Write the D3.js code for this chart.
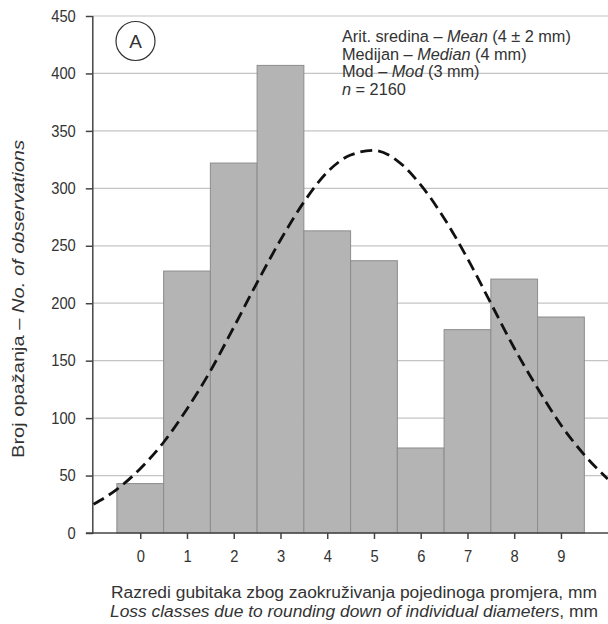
<!DOCTYPE html>
<html><head><meta charset="utf-8">
<script src="https://cdn.jsdelivr.net/npm/d3@7"></script>
<style>
html,body{margin:0;padding:0;background:#fff;}
svg{display:block;}
text{font-family:"Liberation Sans",Arial,sans-serif;fill:#333;}
</style></head>
<body>
<svg id="chart" width="608" height="624"></svg>
<script>
// Data
const classes = [0,1,2,3,4,5,6,7,8,9];
const counts  = [43,228,322,407,263,237,74,177,221,188];
const yTicks  = [0,50,100,150,200,250,300,350,400,450];
// Fitted curve (x position, value)
const curveX = [-1,-0.5,0,0.5,1,1.5,2,2.5,3,3.5,4,4.5,5,5.5,6,6.5,7,7.5,8,8.5,9,9.5,10];
const curveY = [25,38,56,79,108,141,179,218,255,288,314,329,333,324,303,274,239,200,161,126,94,68,47];
const statLines = [
  [["Arit. sredina – ",false],["Mean",true],[" (4 ± 2 mm)",false]],
  [["Medijan – ",false],["Median",true],[" (4 mm)",false]],
  [["Mod – ",false],["Mod",true],[" (3 mm)",false]],
  [["n",true],[" = 2160",false]]
];
const yTitle = [["Broj opažanja – ",false],["No. of observations",true]];
const xTitle1 = "Razredi gubitaka zbog zaokruživanja pojedinoga promjera, mm";
const xTitle2 = [["Loss classes due to rounding down of individual diameters",true],[", mm",false]];

const svg = d3.select("#chart");
const x = d3.scaleLinear().domain([-1,10]).range([93.5,607.7]);
const y = d3.scaleLinear().domain([0,450]).range([533,16]);

// gridlines
svg.append("g").selectAll("line").data(yTicks.filter(d=>d>0)).join("line")
  .attr("x1",93).attr("x2",608).attr("y1",d=>y(d)).attr("y2",d=>y(d))
  .attr("stroke","#c4c4c4").attr("stroke-width",1.2);

// bars
svg.append("g").selectAll("rect").data(classes).join("rect")
  .attr("x",d=>x(d-0.5)).attr("width",d=>x(d+0.5)-x(d-0.5))
  .attr("y",(d,i)=>y(counts[i])).attr("height",(d,i)=>y(0)-y(counts[i]))
  .attr("fill","#b4b4b4").attr("stroke","#8c8c8c").attr("stroke-width",1);

// y axis
const yAxis = d3.axisLeft(y).tickValues(yTicks).tickSize(7).tickPadding(0).tickFormat(d3.format("d"));
const gy = svg.append("g").attr("transform","translate(92.8,0)").call(yAxis);
gy.select(".domain").attr("stroke","#444").attr("stroke-width",1.5).attr("d","M0,16V534");
gy.selectAll(".tick line").attr("stroke","#444").attr("stroke-width",1.5);
gy.selectAll(".tick text").attr("font-size",16).attr("fill","#333")
  .attr("x",-17/0.92).attr("transform","scale(0.92,1)")
  .style("font-family",'"Liberation Sans",Arial,sans-serif');

// x axis
const xAxis = d3.axisBottom(x).tickValues(classes).tickSize(6).tickPadding(12).tickFormat(d3.format("d"));
const gx = svg.append("g").attr("transform","translate(0,533)").call(xAxis);
gx.select(".domain").attr("stroke","#444").attr("stroke-width",1.5).attr("d","M86,0H608");
gx.selectAll(".tick line").attr("stroke","#444").attr("stroke-width",1.5);
gx.selectAll(".tick text").attr("font-size",16).attr("fill","#333").attr("transform","scale(0.92,1)")
  .style("font-family",'"Liberation Sans",Arial,sans-serif');

// curve
const line = d3.line().x((d,i)=>x(curveX[i])).y(d=>y(d)).curve(d3.curveMonotoneX);
svg.append("path").datum(curveY).attr("d",line)
  .attr("fill","none").attr("stroke","#111").attr("stroke-width",2.8)
  .attr("stroke-dasharray","12,6");

// circle A
svg.append("circle").attr("cx",135.5).attr("cy",41).attr("r",19.5)
  .attr("fill","#fff").attr("stroke","#333").attr("stroke-width",1.2);
svg.append("text").attr("x",135.5).attr("y",48).attr("text-anchor","middle")
  .attr("font-size",19).text("A");

// stats text
const st = svg.append("g");
statLines.forEach((parts,i)=>{
  const t = st.append("text").attr("x",342).attr("y",42+i*17.5).attr("font-size",16.3);
  parts.forEach(p=>t.append("tspan").attr("font-style",p[1]?"italic":"normal").text(p[0]));
});

// y title
const yt = svg.append("text").attr("transform","translate(24,299) rotate(-90)")
  .attr("text-anchor","middle").attr("font-size",17)
  .attr("textLength",318).attr("lengthAdjust","spacingAndGlyphs");
yTitle.forEach(p=>yt.append("tspan").attr("font-style",p[1]?"italic":"normal").text(p[0]));

// x titles
svg.append("text").attr("x",354).attr("y",598).attr("text-anchor","middle")
  .attr("font-size",16).attr("textLength",486).attr("lengthAdjust","spacingAndGlyphs").text(xTitle1);
const xt2 = svg.append("text").attr("x",354).attr("y",616.5).attr("text-anchor","middle").attr("font-size",16)
  .attr("textLength",488).attr("lengthAdjust","spacingAndGlyphs");
xTitle2.forEach(p=>xt2.append("tspan").attr("font-style",p[1]?"italic":"normal").text(p[0]));
</script>
</body></html>
